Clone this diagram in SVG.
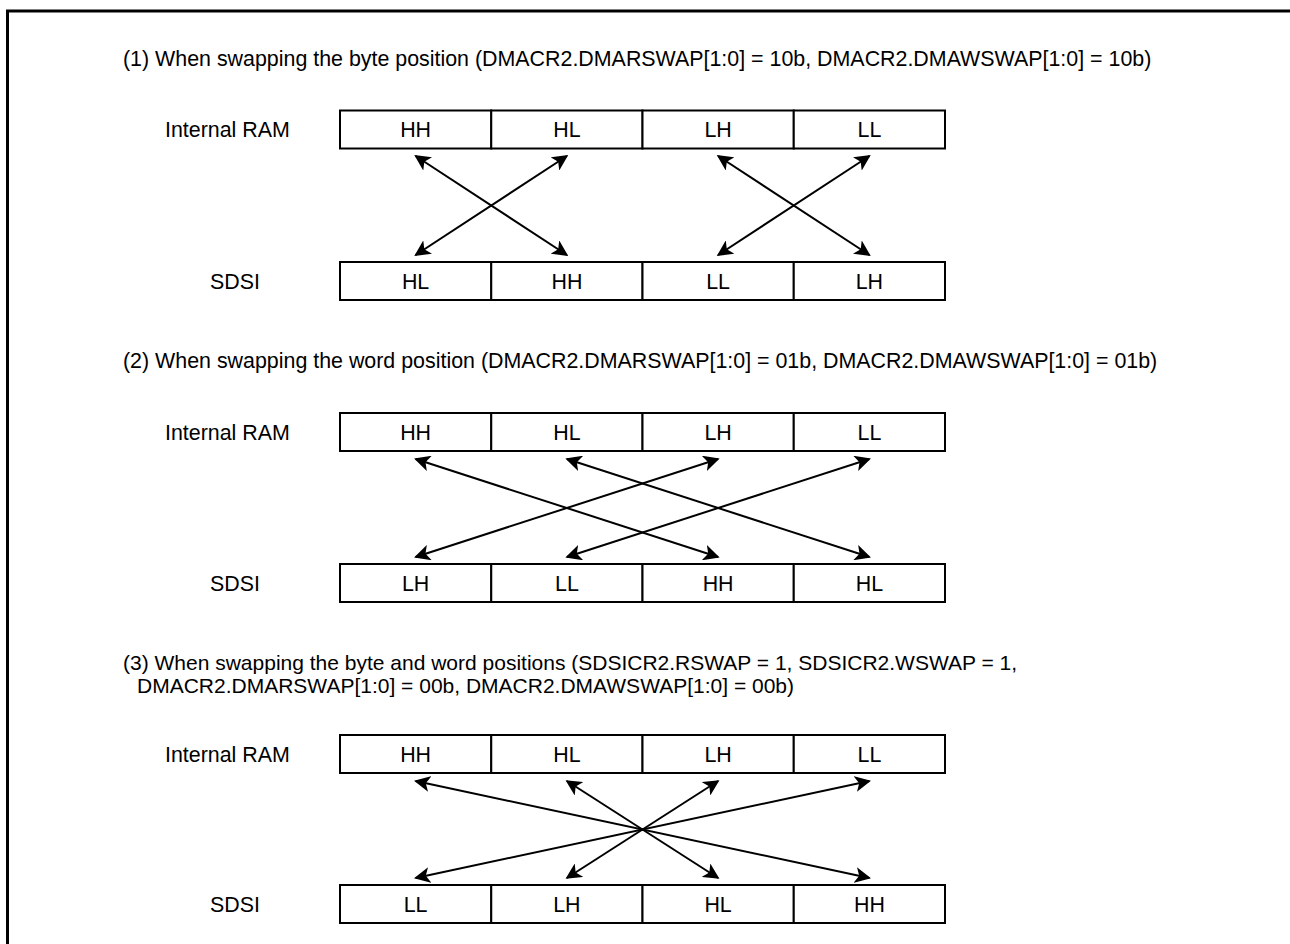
<svg xmlns="http://www.w3.org/2000/svg" width="1290" height="944" viewBox="0 0 1290 944">
  <style>
    text { font-family: "Liberation Sans", Arial, sans-serif; font-size: 21.4px; fill: #000; }
    text.note { font-size: 21px; }
    .cell text { text-anchor: middle; }
    .cell rect { fill: #fff; stroke: #000; stroke-width: 2; }
    .conn line { stroke: #000; stroke-width: 2; marker-start: url(#head); marker-end: url(#head); }
  </style>
  <defs>
    <marker id="head" viewBox="0 0 10 10" refX="9" refY="5" markerWidth="8" markerHeight="8" markerUnits="strokeWidth" orient="auto-start-reverse">
      <path d="M0,0 L10,5 L0,10 L2.5,5 Z" fill="#000"/>
    </marker>
  </defs>
  <rect width="1290" height="944" fill="#fff"/>
  <!-- frame -->
  <path d="M7.5,944 V11 H1290" fill="none" stroke="#000" stroke-width="3"/>

  <!-- (1) byte swap -->
  <text x="123" y="66">(1) When swapping the byte position (DMACR2.DMARSWAP[1:0] = 10b, DMACR2.DMAWSWAP[1:0] = 10b)</text>
  <g id="ram1">
    <text x="165" y="137">Internal RAM</text>
    <g class="cell"><rect x="340" y="110.5" width="151.25" height="38"/><text x="415.6" y="137">HH</text></g>
    <g class="cell"><rect x="491.25" y="110.5" width="151.25" height="38"/><text x="566.9" y="137">HL</text></g>
    <g class="cell"><rect x="642.5" y="110.5" width="151.25" height="38"/><text x="718.1" y="137">LH</text></g>
    <g class="cell"><rect x="793.75" y="110.5" width="151.25" height="38"/><text x="869.4" y="137">LL</text></g>
  </g>
  <g id="sdsi1">
    <text x="210" y="289">SDSI</text>
    <g class="cell"><rect x="340" y="262" width="151.25" height="38"/><text x="415.6" y="289">HL</text></g>
    <g class="cell"><rect x="491.25" y="262" width="151.25" height="38"/><text x="566.9" y="289">HH</text></g>
    <g class="cell"><rect x="642.5" y="262" width="151.25" height="38"/><text x="718.1" y="289">LL</text></g>
    <g class="cell"><rect x="793.75" y="262" width="151.25" height="38"/><text x="869.4" y="289">LH</text></g>
  </g>

  <!-- (2) word swap -->
  <text x="123" y="368">(2) When swapping the word position (DMACR2.DMARSWAP[1:0] = 01b, DMACR2.DMAWSWAP[1:0] = 01b)</text>
  <g id="ram2">
    <text x="165" y="439.5">Internal RAM</text>
    <g class="cell"><rect x="340" y="413" width="151.25" height="38"/><text x="415.6" y="439.5">HH</text></g>
    <g class="cell"><rect x="491.25" y="413" width="151.25" height="38"/><text x="566.9" y="439.5">HL</text></g>
    <g class="cell"><rect x="642.5" y="413" width="151.25" height="38"/><text x="718.1" y="439.5">LH</text></g>
    <g class="cell"><rect x="793.75" y="413" width="151.25" height="38"/><text x="869.4" y="439.5">LL</text></g>
  </g>
  <g id="sdsi2">
    <text x="210" y="590.5">SDSI</text>
    <g class="cell"><rect x="340" y="564" width="151.25" height="38"/><text x="415.6" y="590.5">LH</text></g>
    <g class="cell"><rect x="491.25" y="564" width="151.25" height="38"/><text x="566.9" y="590.5">LL</text></g>
    <g class="cell"><rect x="642.5" y="564" width="151.25" height="38"/><text x="718.1" y="590.5">HH</text></g>
    <g class="cell"><rect x="793.75" y="564" width="151.25" height="38"/><text x="869.4" y="590.5">HL</text></g>
  </g>

  <!-- (3) byte and word swap -->
  <text class="note" x="123" y="670">(3) When swapping the byte and word positions (SDSICR2.RSWAP = 1, SDSICR2.WSWAP = 1,</text>
  <text class="note" x="137" y="693">DMACR2.DMARSWAP[1:0] = 00b, DMACR2.DMAWSWAP[1:0] = 00b)</text>
  <g id="ram3">
    <text x="165" y="761.5">Internal RAM</text>
    <g class="cell"><rect x="340" y="735" width="151.25" height="38"/><text x="415.6" y="761.5">HH</text></g>
    <g class="cell"><rect x="491.25" y="735" width="151.25" height="38"/><text x="566.9" y="761.5">HL</text></g>
    <g class="cell"><rect x="642.5" y="735" width="151.25" height="38"/><text x="718.1" y="761.5">LH</text></g>
    <g class="cell"><rect x="793.75" y="735" width="151.25" height="38"/><text x="869.4" y="761.5">LL</text></g>
  </g>
  <g id="sdsi3">
    <text x="210" y="911.5">SDSI</text>
    <g class="cell"><rect x="340" y="885" width="151.25" height="38"/><text x="415.6" y="911.5">LL</text></g>
    <g class="cell"><rect x="491.25" y="885" width="151.25" height="38"/><text x="566.9" y="911.5">LH</text></g>
    <g class="cell"><rect x="642.5" y="885" width="151.25" height="38"/><text x="718.1" y="911.5">HL</text></g>
    <g class="cell"><rect x="793.75" y="885" width="151.25" height="38"/><text x="869.4" y="911.5">HH</text></g>
  </g>

  <g id="connectors" class="conn">
    <line x1="415.6" y1="156" x2="566.9" y2="255"/>
    <line x1="566.9" y1="156" x2="415.6" y2="255"/>
    <line x1="718.1" y1="156" x2="869.4" y2="255"/>
    <line x1="869.4" y1="156" x2="718.1" y2="255"/>

    <line x1="415.6" y1="459" x2="718.1" y2="557"/>
    <line x1="566.9" y1="459" x2="869.4" y2="557"/>
    <line x1="718.1" y1="459" x2="415.6" y2="557"/>
    <line x1="869.4" y1="459" x2="566.9" y2="557"/>

    <line x1="415.6" y1="781" x2="869.4" y2="878"/>
    <line x1="566.9" y1="781" x2="718.1" y2="878"/>
    <line x1="718.1" y1="781" x2="566.9" y2="878"/>
    <line x1="869.4" y1="781" x2="415.6" y2="878"/>
  </g>
</svg>
